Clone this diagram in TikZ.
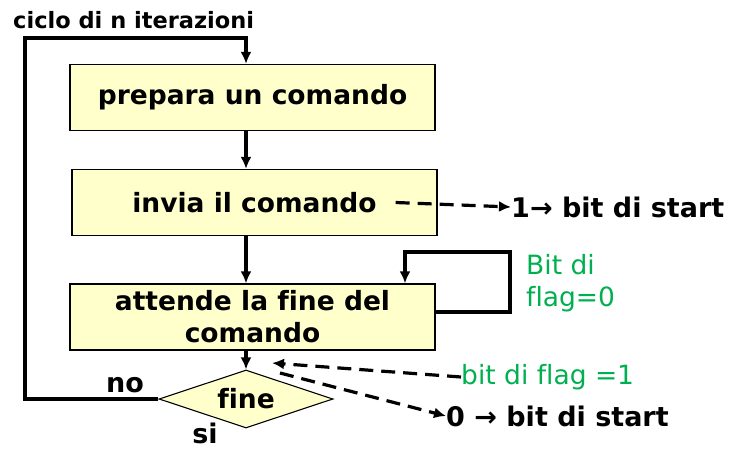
\documentclass[tikz,border=0pt]{standalone}
\usepackage{fontspec}
\setmainfont[Ligatures=NoCommon]{DejaVu Sans}
\usepackage{tikz}
\usetikzlibrary{shapes}
\usetikzlibrary{arrows.meta}
\usetikzlibrary{positioning}
\definecolor{boxyellow}{HTML}{FFFFCC}
\definecolor{flaggreen}{HTML}{00B050}
\tikzset{
  flownode/.style = {align=center, inner sep=0pt, text centered,
    font=\fontsize{26.5}{32}\selectfont\bfseries},
  step_box/.style = {flownode, rectangle, draw=black, fill=boxyellow,
    line width=1.3pt, minimum width=365pt, minimum height=66pt},% blocco di elaborazione
  test_box/.style = {flownode, diamond, draw=black, fill=boxyellow,
    line width=1.1pt, aspect=3, minimum width=174pt, minimum height=58pt},% blocco decisione
  side_text/.style = {inner sep=0pt, font=\fontsize{27}{32}\selectfont\bfseries},
  flag_text/.style = {inner sep=0pt, flaggreen, align=left,
    font=\fontsize{26.5}{32}\selectfont},
  flow/.style = {line width=3.2pt, -{Latex[length=12pt,width=11pt]}},
  signal/.style = {line width=3.2pt, dash pattern=on 14pt off 8pt,
    -{Latex[length=12pt,width=11pt]}}
}
\begin{document}
\begin{tikzpicture}[x=1pt, y=-1pt]
  \useasboundingbox (0,0) rectangle (738,449);
  % blocchi
  \node [step_box] (prep) at (252.5,97.5) {prepara un comando};
  \node [step_box] (invia) at (254.5,202.5) {invia il comando};
  \node [step_box] (attende) at (252.5,317) {attende la fine del\\comando};
  \node [test_box] (fine) at (246,399) {fine};
  % etichette
  \node [side_text, font=\fontsize{22.5}{26}\selectfont\bfseries, anchor=west] (ciclo) at (13,20) {ciclo di n iterazioni};
  \node [side_text] (no) at (125,385) {no};
  \node [side_text] (si) at (205,433) {si};
  \node [side_text, anchor=west] (start1) at (511,207) {1→ bit di start};
  \node [side_text, anchor=west] (start0) at (446,416) {0 → bit di start};
  \node [flag_text, anchor=north west] (flag0) at (526,254) {Bit di\\flag=0};
  \node [flag_text, anchor=west] (flag1) at (461,377) {bit di flag =1};
  \coordinate (loopcorner) at (25,38);
  \coordinate (waitright) at (510,252);
  \coordinate (waitleft) at (405,252);
  \coordinate (flagtip) at (272,363);
  \coordinate (fineout) at (280,373);
  % collegamenti
  \draw [flow] (prep.south -| fine.north) -- (invia.north -| fine.north);
  \draw [flow] (invia.south -| fine.north) -- (attende.north -| fine.north);
  \draw [flow] (attende.south -| fine.north) -- (fine.north);
  \draw [flow] (fine.west) -| (loopcorner) -| (prep.north -| fine.north);
  \draw [flow] ([yshift=5pt]attende.east) -| (waitright) -- (waitleft) -- (attende.north -| waitleft);
  \draw [signal] ([xshift=-42pt]invia.east) -- (start1.west);
  \draw [signal] (flag1.west) -- (flagtip);
  \draw [signal] (fineout) -- (start0.west);
\end{tikzpicture}
\end{document}
